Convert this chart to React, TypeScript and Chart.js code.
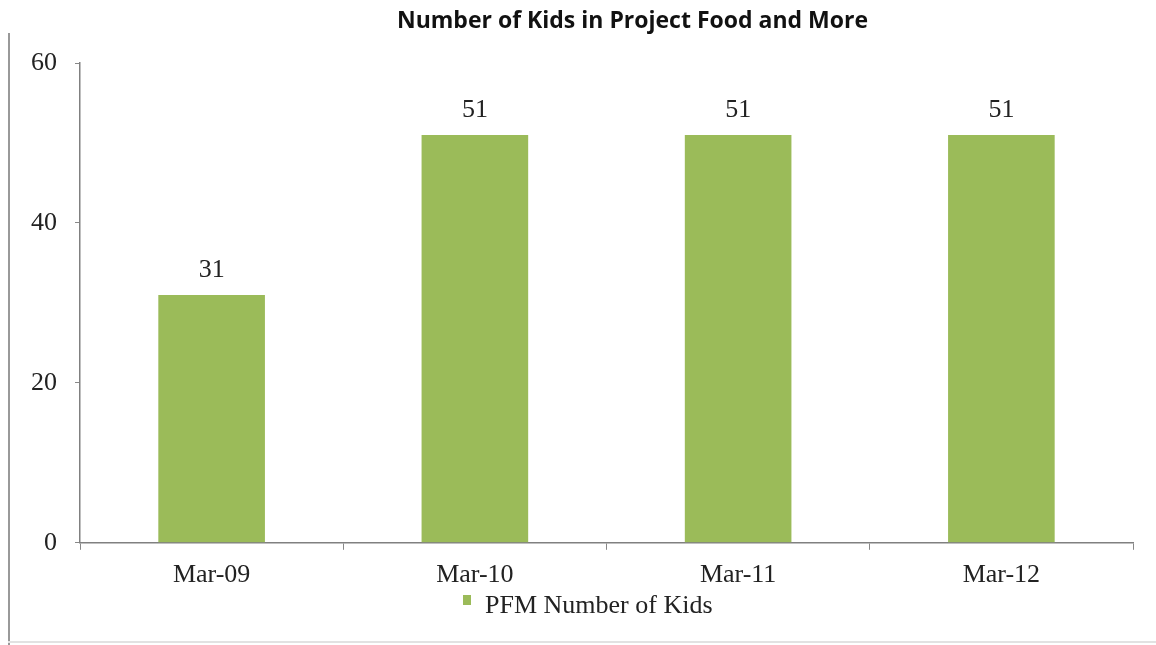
import React, { useEffect, useRef } from "react";
import { Chart, registerables } from "chart.js";

Chart.register(...registerables);

const categories = ["Mar-09", "Mar-10", "Mar-11", "Mar-12"];
const kids = [31, 51, 51, 51];
const seriesName = "PFM Number of Kids";
const titleText = "Number of Kids in Project Food and More";

const serif = "'Liberation Serif', 'DejaVu Serif', serif";
const barColor = "#9bbb59";

const valueLabels = {
  id: "valueLabels",
  afterDatasetsDraw(chart: any) {
    const ctx = chart.ctx;
    const meta = chart.getDatasetMeta(0);
    ctx.save();
    ctx.font = "26px " + serif;
    ctx.fillStyle = "#222";
    ctx.textAlign = "center";
    ctx.textBaseline = "alphabetic";
    meta.data.forEach((bar: any, i: number) => {
      ctx.fillText(String(kids[i]), bar.x, bar.y - 18);
    });
    ctx.restore();
  },
};

export default function App() {
  const ref = useRef<HTMLCanvasElement>(null);
  useEffect(() => {
    if (!ref.current) return;
    const chart = new Chart(ref.current, {
      type: "bar",
      data: {
        labels: categories,
        datasets: [
          {
            label: seriesName,
            data: kids,
            backgroundColor: barColor,
            borderWidth: 0,
            categoryPercentage: 1,
            barPercentage: 0.405,
          },
        ],
      },
      options: {
        animation: false,
        responsive: false,
        maintainAspectRatio: false,
        layout: { padding: { left: 13, right: 23, top: 63, bottom: 44 } },
        plugins: {
          title: { display: false },
          legend: { display: false },
          tooltip: { enabled: false },
        },
        scales: {
          x: {
            grid: {
              display: true,
              drawOnChartArea: false,
              drawTicks: true,
              tickLength: 7,
              color: "#888",
              offset: true,
            },
            border: { display: true, color: "#808080", width: 1.5 },
            ticks: {
              color: "#222",
              font: { family: serif, size: 26 },
              padding: 10,
            },
          },
          y: {
            min: 0,
            max: 60,
            ticks: {
              stepSize: 20,
              color: "#222",
              font: { family: serif, size: 26 },
              padding: 18,
            },
            grid: {
              display: true,
              drawOnChartArea: false,
              drawTicks: true,
              tickLength: 5,
              color: "#888",
            },
            border: { display: true, color: "#808080", width: 1.5 },
          },
        },
      },
      plugins: [valueLabels],
    });
    return () => chart.destroy();
  }, []);
  return (
    <div
      style={{
        position: "fixed",
        left: 0,
        top: 0,
        width: 1156,
        height: 645,
        background: "#fff",
        overflow: "hidden",
      }}
    >
      <canvas ref={ref} width={1156} height={645} style={{ display: "block", position: "absolute", left: 0, top: 0 }} />
      <div
        style={{
          position: "absolute",
          left: 0,
          top: 8,
          width: 1265,
          textAlign: "center",
          fontFamily: "'Open Sans', sans-serif",
          fontWeight: 700,
          fontSize: 23,
          lineHeight: "23px",
          color: "#111",
          whiteSpace: "nowrap",
        }}
      >
        {titleText}
      </div>
      <div
        style={{
          position: "absolute",
          left: 463,
          top: 592,
          fontFamily: serif,
          fontSize: 26,
          lineHeight: "26px",
          color: "#222",
          whiteSpace: "nowrap",
          display: "flex",
          alignItems: "flex-start",
        }}
      >
        <span
          style={{
            display: "inline-block",
            width: 8,
            height: 10,
            marginTop: 3,
            marginRight: 14,
            background: barColor,
          }}
        />
        <span>{seriesName}</span>
      </div>
      <div
        style={{
          position: "absolute",
          left: 8,
          top: 33,
          width: 0,
          height: 612,
          borderLeft: "2px solid #999",
        }}
      />
      <div
        style={{
          position: "absolute",
          left: 8,
          top: 641,
          width: 1148,
          height: 0,
          borderTop: "2px solid #e2e2e2",
        }}
      />
    </div>
  );
}
